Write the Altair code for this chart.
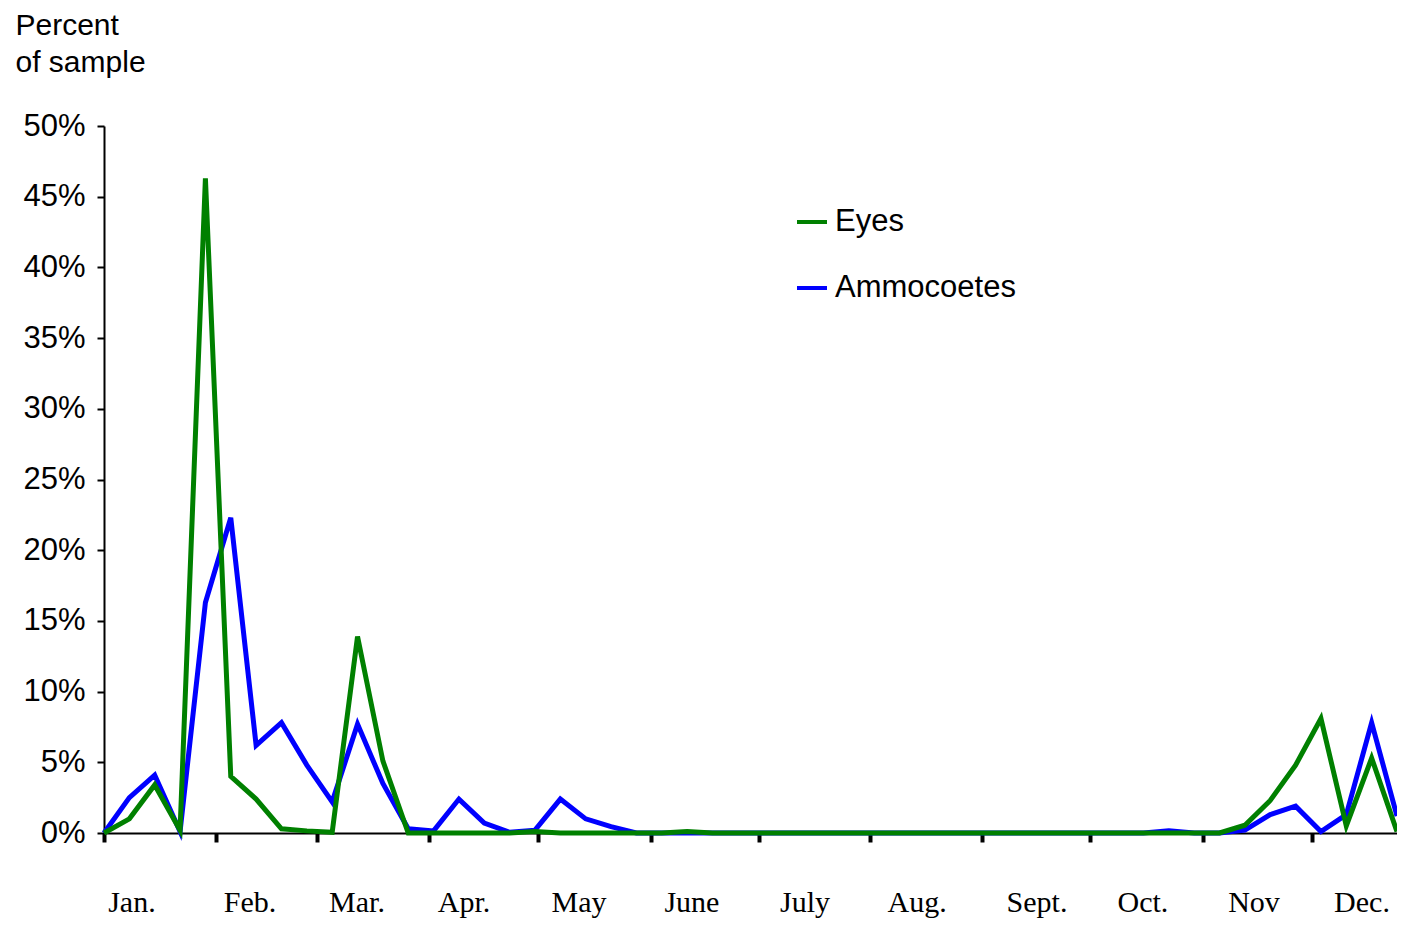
import altair as alt
import pandas as pd

week = list(range(52))
eyes = [0.0, 1.0, 3.4, 0.2, 46.3, 4.0, 2.4, 0.3, 0.15, 0.05,
        13.9, 5.1, 0.0, 0.0, 0.0, 0.0, 0.0, 0.1, 0.0, 0.0,
        0.0, 0.0, 0.0, 0.1, 0.0, 0.0, 0.0, 0.0, 0.0, 0.0,
        0.0, 0.0, 0.0, 0.0, 0.0, 0.0, 0.0, 0.0, 0.0, 0.0,
        0.0, 0.0, 0.0, 0.0, 0.0, 0.55, 2.3, 4.8, 8.1, 0.5,
        5.3, 0.1]
ammocoetes = [0.0, 2.5, 4.1, 0.1, 16.3, 22.3, 6.2, 7.8, 4.8, 2.2,
              7.7, 3.5, 0.3, 0.15, 2.4, 0.7, 0.05, 0.2, 2.4, 1.0,
              0.45, 0.0, 0.0, 0.0, 0.0, 0.0, 0.0, 0.0, 0.0, 0.0,
              0.0, 0.0, 0.0, 0.0, 0.0, 0.0, 0.0, 0.0, 0.0, 0.0,
              0.0, 0.0, 0.15, 0.0, 0.0, 0.2, 1.3, 1.9, 0.1, 1.3,
              7.8, 1.2]
series_names = ["Eyes", "Ammocoetes"]
series_colors = ["#008000", "#0000ff"]
month_names = ["Jan.", "Feb.", "Mar.", "Apr.", "May", "June", "July",
               "Aug.", "Sept.", "Oct.", "Nov", "Dec."]
month_centers = [1.10, 5.76, 9.98, 14.20, 18.74, 23.19, 27.65, 32.07,
                 36.80, 40.98, 45.36, 49.62]
month_bounds = [0, 4.42, 8.40, 12.82, 17.12, 21.58, 25.84, 30.21, 34.63,
                38.89, 43.35, 47.65]
y_ticks = [0, 5, 10, 15, 20, 25, 30, 35, 40, 45, 50]

W, H = 1293, 707
SANS = "Liberation Sans"
SERIF = "Liberation Serif"

df = pd.DataFrame({
    "week": week * 2,
    "value": eyes + ammocoetes,
    "series": ["Eyes"] * len(eyes) + ["Ammocoetes"] * len(ammocoetes),
})
mdf = pd.DataFrame({"month": month_names, "pos": month_centers})

xscale = alt.Scale(domain=[0, 51], nice=False, zero=False)
xaxis = alt.Axis(values=month_bounds, labels=False, title=None, grid=False,
                 tickSize=9, tickWidth=4, tickColor="black",
                 domainColor="black", domainWidth=2)
x = alt.X("week:Q", scale=xscale, axis=xaxis)
y = alt.Y("value:Q", scale=alt.Scale(domain=[0, 50], nice=False),
          axis=alt.Axis(values=y_ticks, labelExpr="datum.value + '%'", grid=False,
                        labelFont=SANS, labelFontSize=31, labelColor="black",
                        labelPadding=12, tickSize=7, tickWidth=2, tickColor="black",
                        domainColor="black", domainWidth=2,
                        title=["Percent", "of sample"], titleAngle=0,
                        titleAlign="left", titleBaseline="alphabetic",
                        titleX=-89, titleY=-92, titleFont=SANS, titleFontSize=30,
                        titleFontWeight="normal", titleColor="black",
                        titleLineHeight=37))
color = alt.Color("series:N",
                  scale=alt.Scale(domain=series_names, range=series_colors),
                  legend=alt.Legend(title=None, orient="none", legendX=691, legendY=79,
                                    symbolType="stroke", symbolSize=900,
                                    symbolStrokeWidth=4, labelFont=SANS,
                                    labelFontSize=31, labelColor="black",
                                    labelLimit=0, labelOffset=6, rowPadding=34,
                                    padding=0))

base = alt.Chart(df)
amm_line = base.transform_filter("datum.series == 'Ammocoetes'").mark_line(
    strokeWidth=5).encode(x=x, y=y, color=color)
eyes_line = base.transform_filter("datum.series == 'Eyes'").mark_line(
    strokeWidth=5).encode(x=x, y=y, color=color)

months = alt.Chart(mdf).mark_text(font=SERIF, fontSize=30, baseline="alphabetic",
                                  align="center", color="black").encode(
    x=alt.X("pos:Q", scale=xscale, axis=xaxis),
    y=alt.value(H + 79),
    text="month:N",
)

chart = alt.layer(amm_line, eyes_line, months).properties(
    width=W, height=H,
    background="white",
    autosize=alt.AutoSizeParams(type="none"),
    padding={"left": 96, "top": 118, "right": 0, "bottom": 86},
).configure_view(stroke=None)

chart.save("out.html", embed_options={"renderer": "svg", "actions": False})
